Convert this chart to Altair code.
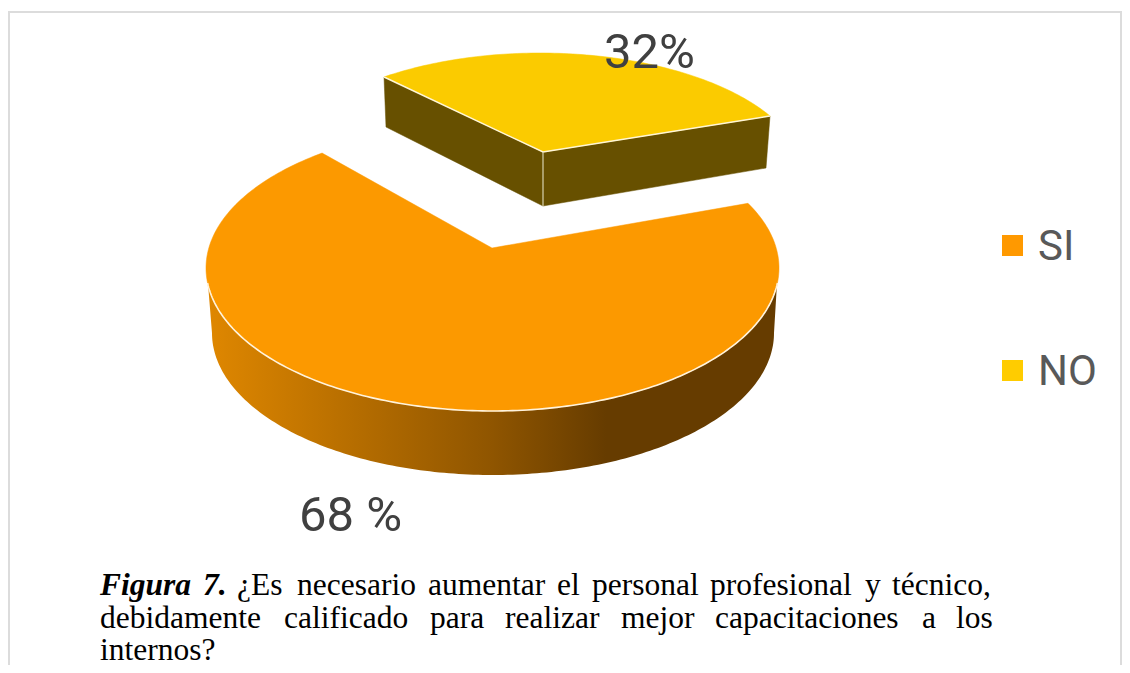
import math
import altair as alt
import pandas as pd

# ---- data
categories = ["SI", "NO"]
shares = [68, 32]
label_suffix = [" %", "%"]
colors = ["#FC9900", "#FBCB00"]
legend_colors = ["#FF9900", "#FFCC00"]

# caption, word by word (justified text in the original)
caption_bold = ["Figura", "7."]
caption_line1 = ["¿Es", "necesario", "aumentar", "el", "personal", "profesional", "y", "técnico,"]
caption_line2 = ["debidamente", "calificado", "para", "realizar", "mejor", "capacitaciones", "a", "los"]
caption_line3 = ["internos?"]

# ---- layout (image pixel coordinates)
W, H = 1114, 657
OX, OY = 8, 8
x_scale = alt.Scale(domain=[OX, OX + W], range=[0, W])
y_scale = alt.Scale(domain=[OY + H, OY], range=[H, 0])
X = alt.X("x:Q", scale=x_scale, axis=None)
Y = alt.Y("y:Q", scale=y_scale, axis=None)


def arc(cx, cy, rx, ry, a0, a1, step=1.0):
    n = max(2, int(abs(a1 - a0) / step))
    return [
        (cx + rx * math.cos(math.radians(a0 + (a1 - a0) * k / n)),
         cy - ry * math.sin(math.radians(a0 + (a1 - a0) * k / n)))
        for k in range(n + 1)
    ]


def shape(points, **mark):
    df = pd.DataFrame(points, columns=["x", "y"])
    df["i"] = range(len(df))
    return alt.Chart(df).mark_line(interpolate="linear", **mark).encode(
        x=X, y=Y, order=alt.Order("i:Q")
    )


def text(word, x, y, size, color, font, **kw):
    return alt.Chart(pd.DataFrame({"t": [word]})).mark_text(
        align="left", baseline="alphabetic", fontSize=size, color=color, font=font, **kw
    ).encode(text="t:N", x=alt.value(x - OX), y=alt.value(y - OY))


layers = []

# frame
frame = "#DCDCDC"
for pts in ([(8, 12), (1122, 12)], [(9, 12), (9, 665)], [(1121, 12), (1121, 665)]):
    layers.append(shape(pts, stroke=frame, strokeWidth=2))

# --- big slice (SI)
C1 = (492.5, 268, 286.5, 143)
C1_low = (493, 333, 281, 142)
wall_pts = arc(*C1, 187, 353) + arc(*C1_low, 360, 180)
wall_fill = alt.Gradient(
    gradient="linear", x1=0, x2=1, y1=0, y2=0,
    stops=[
        alt.GradientStop(color="#DF8700", offset=0),
        alt.GradientStop(color="#8F5500", offset=0.5),
        alt.GradientStop(color="#663C00", offset=0.7),
        alt.GradientStop(color="#663C00", offset=1),
    ],
)
layers.append(shape(wall_pts, fill=wall_fill, stroke=None, strokeWidth=0))
top_pts = [(492, 248)] + arc(*C1, 126.5, 386.9) + [(492, 248)]
layers.append(shape(top_pts, fill=colors[0], stroke=colors[0], strokeWidth=0.5))
layers.append(shape(arc(*C1, 186, 354), stroke="#FFF3DC", strokeWidth=1.6))

# --- small slice (NO)
apex = (543, 152)
left_a, right_a = (384, 77), (770, 116)
wall_c = "#675000"
layers.append(shape([left_a, apex, (543, 206), (386, 127), left_a], fill=wall_c, stroke=wall_c, strokeWidth=0.5))
layers.append(shape([apex, right_a, (766, 168), (543, 206), apex], fill=wall_c, stroke=wall_c, strokeWidth=0.5))
C2 = (540, 178, 265, 125)
layers.append(shape([apex] + arc(*C2, 126, 29.7) + [apex], fill=colors[1], stroke=colors[1], strokeWidth=0.5))
layers.append(shape([left_a, apex, right_a], stroke="#FFF6D8", strokeWidth=1.4))
layers.append(shape([apex, (543, 206)], stroke="#D9D2B0", strokeWidth=1.2))

# --- value labels
LABEL_FONT = "Roboto"
layers.append(text(f"{shares[0]}{label_suffix[0]}", 299, 531, 49, "#404040", LABEL_FONT))
layers.append(text(f"{shares[1]}{label_suffix[1]}", 604, 68, 49, "#404040", LABEL_FONT))

# --- legend
legend_df = pd.DataFrame({
    "cat": categories,
    "x": [1012.5, 1012.5],
    "y": [245.5, 370.5],
})
layers.append(
    alt.Chart(legend_df).mark_square(size=441, opacity=1).encode(
        x=X, y=Y,
        color=alt.Color("cat:N", scale=alt.Scale(domain=categories, range=legend_colors), legend=None),
    )
)
layers.append(text(categories[0], 1038, 260, 42, "#595959", LABEL_FONT))
layers.append(text(categories[1], 1038, 385, 42, "#595959", LABEL_FONT))

# --- caption
SERIF = "Liberation Serif"
CAP = "#000000"
SIZE = 31.5
for word, x in zip(caption_bold, [100, 203]):
    layers.append(text(word, x, 595, SIZE, CAP, SERIF, fontWeight="bold", fontStyle="italic"))
for word, x in zip(caption_line1, [237, 297, 428, 557, 592, 710, 865, 892]):
    layers.append(text(word, x, 595, SIZE, CAP, SERIF))
for word, x in zip(caption_line2, [100, 284, 430, 505, 621, 715, 922, 956]):
    layers.append(text(word, x, 628, SIZE, CAP, SERIF))
layers.append(text(caption_line3[0], 100, 660, SIZE, CAP, SERIF))

chart = (
    alt.layer(*layers)
    .properties(width=W, height=H, background="white",
                autosize=alt.AutoSizeParams(type="none", contains="padding"),
                padding={"left": 0, "right": 0, "top": 0, "bottom": 0})
    .configure_view(stroke=None)
)
chart.save("out.html", embed_options={"renderer": "svg", "actions": False})
